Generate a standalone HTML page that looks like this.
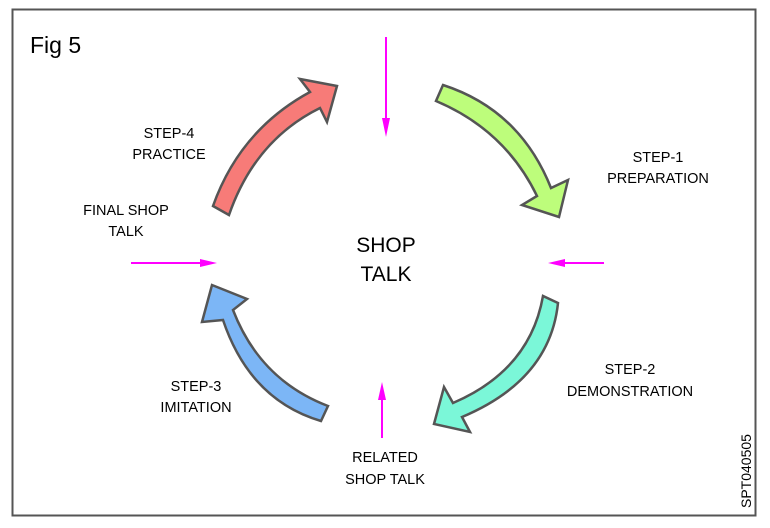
<!DOCTYPE html>
<html><head><style>
body{margin:0;background:#fff}
svg{display:block}
text{font-family:"Liberation Sans",sans-serif;fill:#000}
</style></head><body>
<svg width="770" height="528" viewBox="0 0 770 528">
<rect x="12.5" y="9.5" width="743" height="506" fill="none" stroke="#555" stroke-width="2"/>
<text x="30" y="53" font-size="23">Fig 5</text>
<g stroke="#555" stroke-width="2.5" stroke-linejoin="miter">
<path d="M213,206 Q240,130 310,92 L300,79 L337,86 L327,122 L320,108 Q255,140 229,215 Z" fill="#f77b78"/>
<path d="M443,85 Q520,110 551,188 L568,180 L559,217 L522,205 L537,196 Q505,130 436,101 Z" fill="#bdfd7b"/>
<path d="M543,296 Q530,370 453,403 L444,387 L434,424 L470,432 L462,417 Q550,380 558,303 Z" fill="#7bf7d8"/>
<path d="M328,406 Q260,380 233,310 L247,299 L212,285 L202,322 L223,320 Q250,400 321,421 Z" fill="#7cb6f6"/>
</g>
<g stroke="#f0f" stroke-width="2" fill="#f0f">
<line x1="386" y1="37" x2="386" y2="125"/><path d="M382,118 L390,118 L386,137 Z" stroke="none"/>
<line x1="131" y1="263" x2="205" y2="263"/><path d="M200,259 L200,267 L217,263 Z" stroke="none"/>
<line x1="604" y1="263" x2="560" y2="263"/><path d="M565,259 L565,267 L548,263 Z" stroke="none"/>
<line x1="382" y1="438" x2="382" y2="395"/><path d="M378,400 L386,400 L382,382 Z" stroke="none"/>
</g>
<g font-size="14.5" text-anchor="middle">
<text x="169" y="138">STEP-4</text><text x="169" y="159">PRACTICE</text>
<text x="126" y="215">FINAL SHOP</text><text x="126" y="236">TALK</text>
<text x="658" y="162">STEP-1</text><text x="658" y="183">PREPARATION</text>
<text x="630" y="374">STEP-2</text><text x="630" y="396">DEMONSTRATION</text>
<text x="196" y="391">STEP-3</text><text x="196" y="412">IMITATION</text>
<text x="385" y="462">RELATED</text><text x="385" y="484">SHOP TALK</text>
</g>
<g font-size="21" text-anchor="middle">
<text x="386" y="252">SHOP</text><text x="386" y="281">TALK</text>
</g>
<text transform="translate(751,508) rotate(-90)" font-size="14">SPT040505</text>
</svg>
</body></html>
